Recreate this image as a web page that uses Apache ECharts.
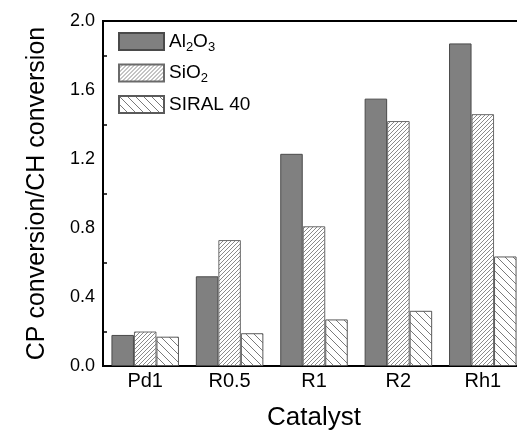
<!DOCTYPE html>
<html>
<head>
<meta charset="utf-8">
<script src="https://cdn.jsdelivr.net/npm/echarts@6/dist/echarts.min.js"></script>
<style>
    html, body { margin: 0; padding: 0; background: #fff; }
    #chart { width: 517px; height: 433px; }
</style>
</head>
<body>
<div id="chart"></div>
<script>
var categories = ["Pd1", "R0.5", "R1", "R2", "Rh1"];
var al2o3 = [0.18, 0.52, 1.23, 1.55, 1.87];
var sio2 = [0.20, 0.73, 0.81, 1.42, 1.46];
var siral40 = [0.17, 0.19, 0.27, 0.32, 0.635];
var yTicks = [0, 0.4, 0.8, 1.2, 1.6, 2.0];

// hatch fill: dir 1 = "/", dir -1 = "\"
function hatch(step, dir, color) {
    var c = document.createElement("canvas");
    c.width = step;
    c.height = step;
    var ctx = c.getContext("2d");
    ctx.fillStyle = "#fff";
    ctx.fillRect(0, 0, step, step);
    ctx.strokeStyle = color;
    ctx.lineWidth = 1;
    ctx.beginPath();
    for (var k = -1; k <= 1; k++) {
        if (dir > 0) {
            ctx.moveTo(k * step, step);
            ctx.lineTo(k * step + step, 0);
        } else {
            ctx.moveTo(k * step, 0);
            ctx.lineTo(k * step + step, step);
        }
    }
    ctx.stroke();
    return { image: c, repeat: "repeat" };
}

var chart = echarts.init(document.getElementById("chart"));
var font = "Liberation Sans, Arial, sans-serif";

var option = {
    animation: false,
    grid: {
        left: 103,
        top: 21,
        width: 422,
        height: 345,
        outerBoundsMode: "none",
        containLabel: false,
        show: true,
        borderColor: "#000",
        borderWidth: 2
    },
    legend: {
        left: 118,
        top: 32,
        padding: 0,
        orient: "vertical",
        icon: "rect",
        itemWidth: 45,
        itemHeight: 17,
        itemGap: 10,
        selectedMode: false,
        textStyle: {
            color: "#000",
            fontFamily: font,
            fontSize: 19,
            rich: {
                n: { fontSize: 19, fontFamily: font, color: "#000" },
                s: { fontSize: 13, fontFamily: font, color: "#000", padding: [11, 0, 0, 0] }
            }
        },
        formatter: function(name) {
            if (name === "Al2O3") return "{n|Al}{s|2}{n|O}{s|3}";
            if (name === "SiO2") return "{n|SiO}{s|2}";
            return "{n|" + name + "}";
        },
        data: ["Al2O3", "SiO2", "SIRAL 40"]
    },
    xAxis: {
        type: "category",
        data: categories,
        name: "Catalyst",
        nameLocation: "middle",
        nameGap: 39,
        nameTextStyle: { fontFamily: font, fontSize: 26, color: "#000" },
        axisLine: { lineStyle: { color: "#000", width: 2 } },
        axisTick: { inside: true, alignWithLabel: true, length: 7, lineStyle: { color: "#000", width: 2 } },
        axisLabel: { fontFamily: font, fontSize: 20, color: "#000", margin: 5 },
        splitLine: { show: false }
    },
    yAxis: {
        type: "value",
        min: 0,
        max: 2.0,
        interval: 0.4,
        name: "CP conversion/CH conversion",
        nameLocation: "middle",
        nameGap: 53,
        nameTextStyle: { fontFamily: font, fontSize: 25, color: "#000" },
        axisLine: { show: true, lineStyle: { color: "#000", width: 2 } },
        axisTick: { inside: true, length: 6, lineStyle: { color: "#000", width: 1.5 } },
        minorTick: { show: true, splitNumber: 2, length: 4, lineStyle: { color: "#000", width: 1.5 } },
        axisLabel: {
            fontFamily: font,
            fontSize: 18,
            color: "#000",
            margin: 8,
            formatter: function(v) { return v.toFixed(1); }
        },
        splitLine: { show: false }
    },
    series: [
        {
            name: "Al2O3",
            type: "bar",
            data: al2o3,
            barGap: "0%",
            barCategoryGap: "20%",
            itemStyle: { color: "#808080", borderColor: "#4a4a4a", borderWidth: 1 }
        },
        {
            name: "SiO2",
            type: "bar",
            data: sio2,
            itemStyle: { color: hatch(4, 1, "#8a8a8a"), borderColor: "#6a6a6a", borderWidth: 1 }
        },
        {
            name: "SIRAL 40",
            type: "bar",
            data: siral40,
            itemStyle: { color: hatch(8, -1, "#7a7a7a"), borderColor: "#5a5a5a", borderWidth: 1 }
        }
    ]
};

chart.setOption(option);
</script>
</body>
</html>
